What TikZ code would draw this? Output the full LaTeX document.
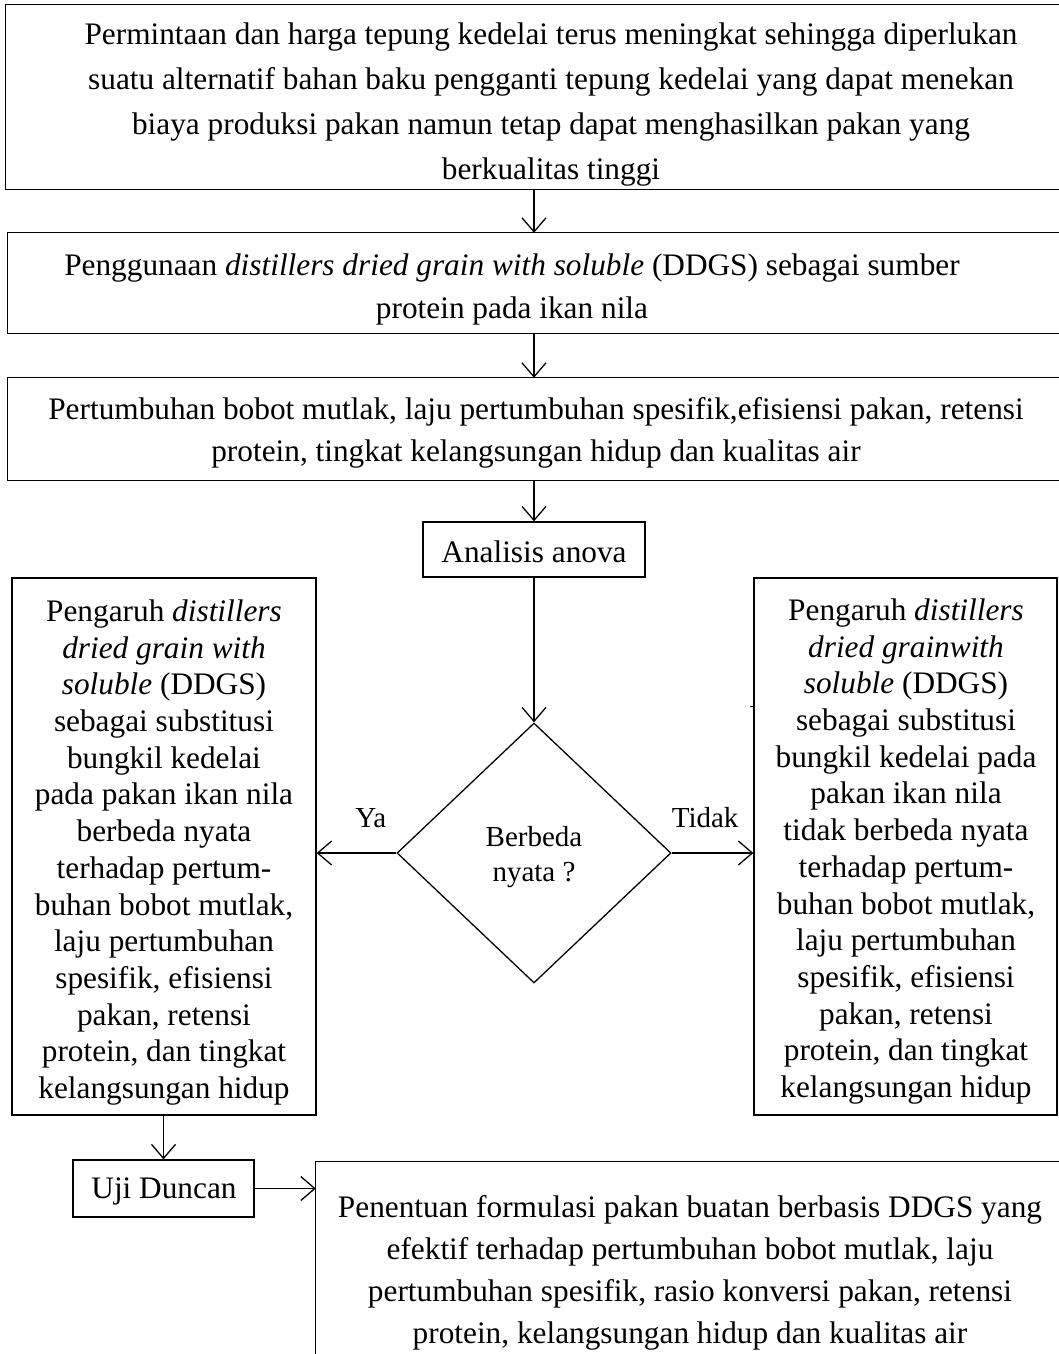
\documentclass[tikz,border=0pt]{standalone}
\usepackage{fontspec}
\setmainfont{Liberation Serif}
\usetikzlibrary{arrows.meta,shapes.geometric,fit}
\begin{document}
\begin{tikzpicture}[x=1pt,y=-1pt,
  box/.style={draw, line width=1.3pt, inner sep=0pt},
  openbox/.style={draw=none, inner sep=0pt},
  txt/.style={align=center, inner sep=0pt},
  bigfont/.style={font=\fontsize{31.3}{#1}\selectfont},
  lblfont/.style={font=\fontsize{29}{35}\selectfont},
  arr/.style={line width=1.3pt, -{Straight Barb[length=14pt,width=24pt,line width=1.3pt]}},
  edge/.style={line width=1.3pt}]
\useasboundingbox (0,0) rectangle (1059,1354);
\clip (0,0) rectangle (1059,1354);

% boxes (wide ones run past the right margin)
\node[openbox, fit={(6,5) (1110,189)}] (b1) {};
\node[openbox, fit={(8,233) (1110,333)}] (b2) {};
\node[openbox, fit={(8,378) (1110,480)}] (b3) {};
\node[openbox, fit={(316,1162) (1110,1420)}] (fb) {};
\foreach \b in {b1,b2,b3,fb}
  \draw[edge] (\b.north east) -- (\b.north west) -- (\b.south west) -- (\b.south east);
\node[box, fit={(423,522) (645,577)}] (an) {};
\node[box, fit={(12,578) (316,1115)}] (lb) {};
\node[box, fit={(754,578) (1057,1115)}] (rb) {};
\node[box, fit={(73,1160) (254,1217)}] (ud) {};
\node[draw, line width=1.3pt, shape=diamond, minimum width=274pt, minimum height=260pt, inner sep=0pt] (d) at (534,853) {};

% texts
\node[txt, bigfont=45] (t1) at (551,105) {Permintaan dan harga tepung kedelai terus meningkat sehingga diperlukan\\suatu alternatif bahan baku pengganti tepung kedelai yang dapat menekan\\biaya produksi pakan namun tetap dapat menghasilkan pakan yang\\berkualitas tinggi};
\node[txt, bigfont=43] (t2) at (512,289.5) {Penggunaan \textit{distillers dried grain with soluble} (DDGS) sebagai sumber\\protein pada ikan nila};
\node[txt, bigfont=42] (t3) at (536,433) {Pertumbuhan bobot mutlak, laju pertumbuhan spesifik,efisiensi pakan, retensi\\protein, tingkat kelangsungan hidup dan kualitas air};
\node[txt, bigfont=40] (tan) at (534,551.5) {Analisis anova};
\node[txt, bigfont=36.7] (tl) at (164,852.5) {Pengaruh \textit{distillers}\\\textit{dried grain with}\\\textit{soluble} (DDGS)\\sebagai substitusi\\bungkil kedelai\\pada pakan ikan nila\\berbeda nyata\\terhadap pertum-\\buhan bobot mutlak,\\laju pertumbuhan\\spesifik, efisiensi\\pakan, retensi\\protein, dan tingkat\\kelangsungan hidup};
\node[txt, bigfont=36.7] (tr) at (906,851.5) {Pengaruh \textit{distillers}\\\textit{dried grainwith}\\\textit{soluble} (DDGS)\\sebagai substitusi\\bungkil kedelai pada\\pakan ikan nila\\tidak berbeda nyata\\terhadap pertum-\\buhan bobot mutlak,\\laju pertumbuhan\\spesifik, efisiensi\\pakan, retensi\\protein, dan tingkat\\kelangsungan hidup};
\node[txt, lblfont] (td) at (534,857) {Berbeda\\nyata ?};
\node[txt, bigfont=40] (tud) at (164,1191.5) {Uji Duncan};
\node[txt, bigfont=42] (tf) at (690,1273) {Penentuan formulasi pakan buatan berbasis DDGS yang\\efektif terhadap pertumbuhan bobot mutlak, laju\\pertumbuhan spesifik, rasio konversi pakan, retensi\\protein, kelangsungan hidup dan kualitas air};

% connectors
\draw[arr] (b1.south -| 534,0) -- (b2.north -| 534,0);
\draw[arr] (b2.south -| 534,0) -- (b3.north -| 534,0);
\draw[arr] (b3.south -| an.north) -- (an.north);
\draw[arr] (an.south) -- (d.north);
\draw[arr] (d.west) -- node[txt, lblfont, pos=0.32, yshift=35pt] (ya) {Ya} (d.west -| lb.east);
\draw[arr] (d.east) -- node[txt, lblfont, pos=0.41, yshift=35pt] (tdk) {Tidak} (d.east -| rb.west);
\draw[arr] (lb.south -| ud.north) -- (ud.north);
\draw[arr] (ud.east) -- (ud.east -| fb.west);
\coordinate (tick) at (rb.west |- 0,706);
\draw[line width=1pt] (tick) -- ++(-3,0);
\end{tikzpicture}
\end{document}
